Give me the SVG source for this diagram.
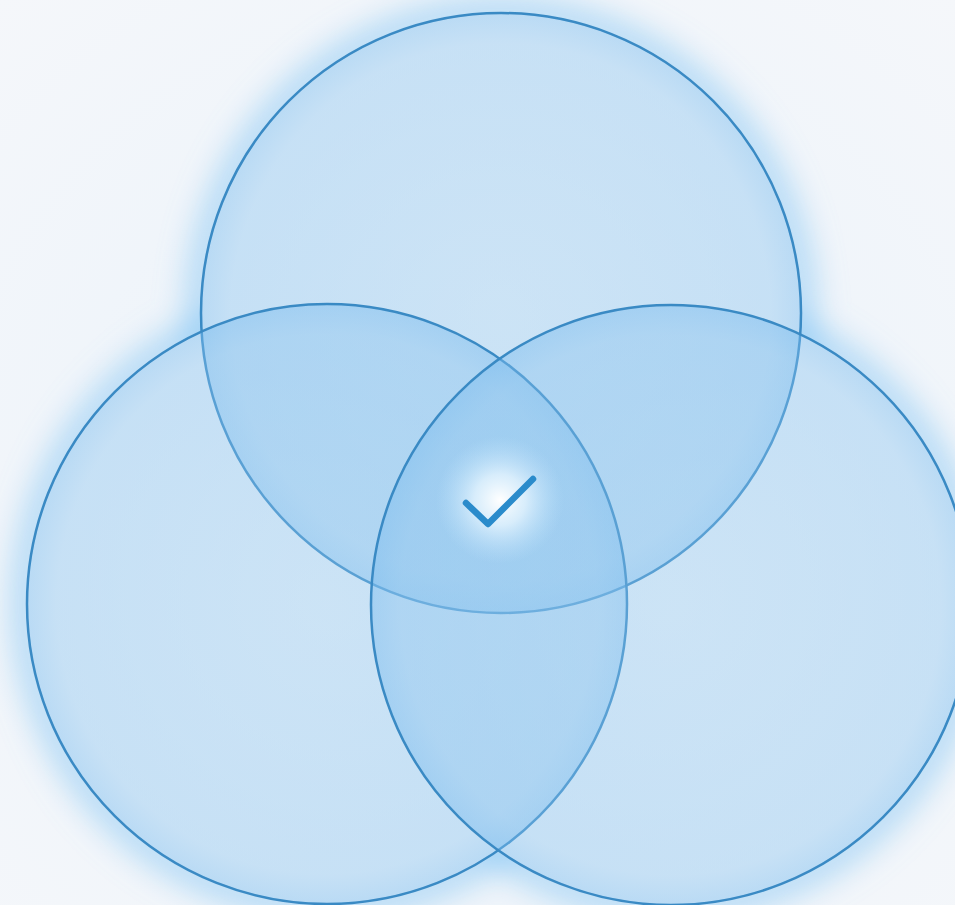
<svg xmlns="http://www.w3.org/2000/svg" width="955" height="905" viewBox="0 0 955 905">
  <defs>
    <radialGradient id="bg" cx="0.5" cy="0.55" r="0.75">
      <stop offset="0" stop-color="#e9f2fa"/>
      <stop offset="1" stop-color="#f5f7fa"/>
    </radialGradient>
    <filter id="glow" x="-20%" y="-20%" width="140%" height="140%">
      <feGaussianBlur stdDeviation="16"/>
    </filter>
    <mask id="outside" maskUnits="userSpaceOnUse" x="0" y="0" width="955" height="905">
      <rect width="955" height="905" fill="#fff"/>
      <circle cx="501" cy="313" r="299" fill="#000"/>
      <circle cx="327" cy="604" r="299" fill="#000"/>
      <circle cx="671" cy="605" r="299" fill="#000"/>
    </mask>
    <radialGradient id="center" cx="0.5" cy="0.5" r="0.5">
      <stop offset="0" stop-color="#ffffff" stop-opacity="1"/>
      <stop offset="0.4" stop-color="#eaf7ff" stop-opacity="0.75"/>
      <stop offset="1" stop-color="#bfe3fb" stop-opacity="0"/>
    </radialGradient>
    <radialGradient id="fillg" cx="0.5" cy="0.5" r="0.5">
      <stop offset="0" stop-color="#92c7ee" stop-opacity="0.36"/>
      <stop offset="0.9" stop-color="#88c2ee" stop-opacity="0.4"/>
      <stop offset="1" stop-color="#78bbee" stop-opacity="0.46"/>
    </radialGradient>
  </defs>
  <style>
    .set { fill: url(#fillg); stroke: #3a8ac4; stroke-width: 2.5; }
    .halo { fill: none; stroke: #86c6f3; stroke-width: 26; opacity: 0.7; }
    .check { fill: none; stroke: #2a8bcb; stroke-width: 6.5; stroke-linecap: round; stroke-linejoin: round; }
  </style>
  <rect width="955" height="905" fill="url(#bg)"/>
  <g id="halo" mask="url(#outside)">
    <g filter="url(#glow)">
      <circle class="halo" cx="501" cy="313" r="300"/>
      <circle class="halo" cx="327" cy="604" r="300"/>
      <circle class="halo" cx="671" cy="605" r="300"/>
    </g>
  </g>
  <g id="set-top">
    <circle class="set" cx="501" cy="313" r="300"/>
  </g>
  <g id="set-left">
    <circle class="set" cx="327" cy="604" r="300"/>
  </g>
  <g id="set-right">
    <circle class="set" cx="671" cy="605" r="300"/>
  </g>
  <g id="connectors"/>
  <g id="intersection">
    <circle cx="500" cy="500" r="64" fill="url(#center)"/>
    <polyline class="check" points="466,503 488,524 533,479"/>
  </g>
</svg>
